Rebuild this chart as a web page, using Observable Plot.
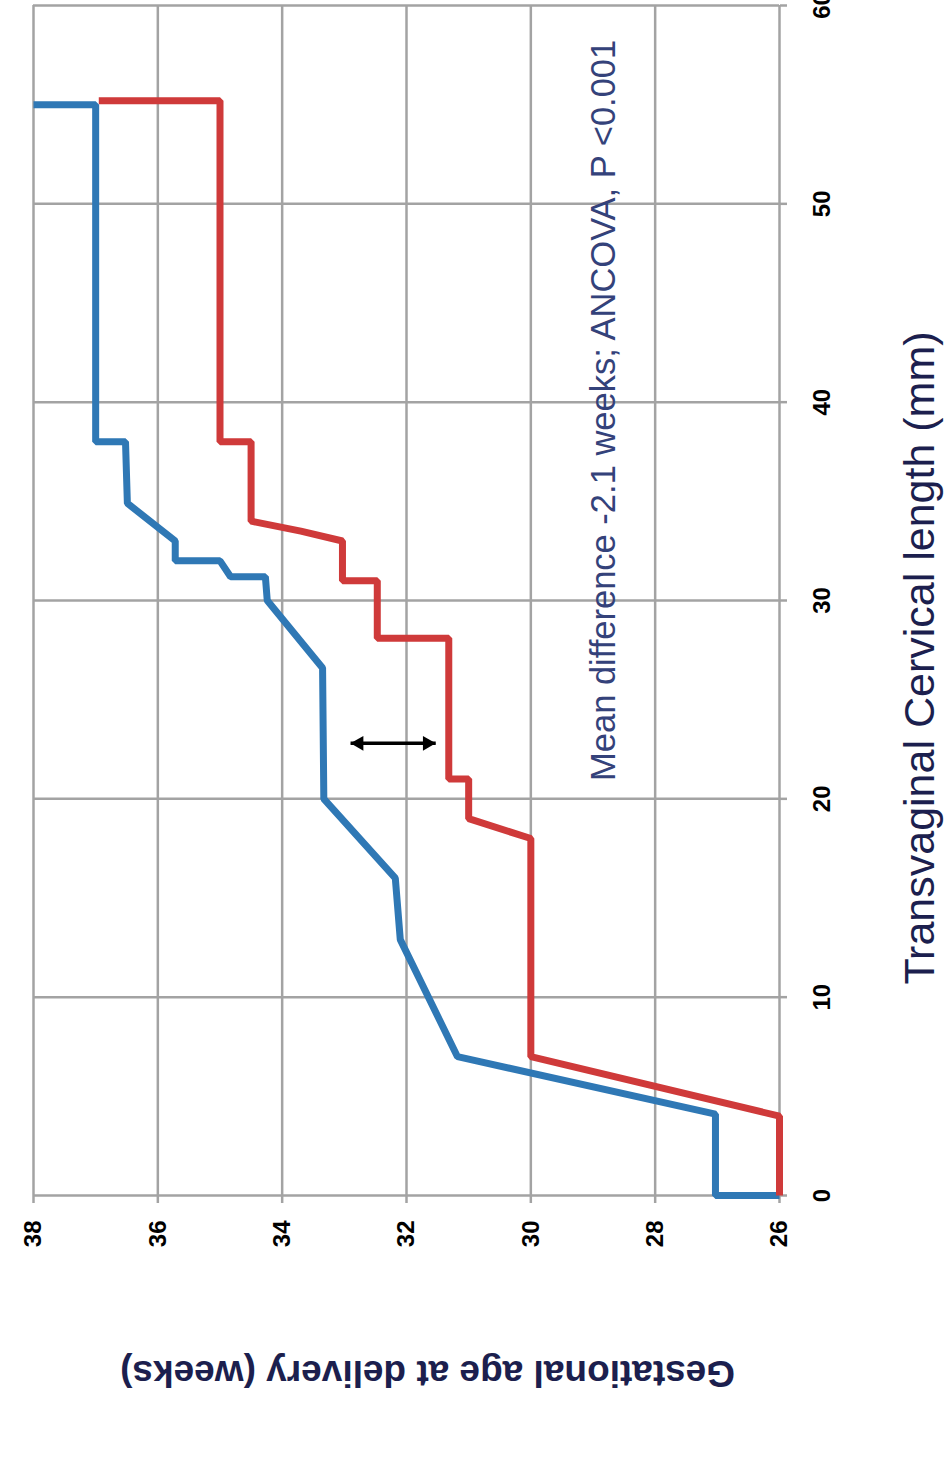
<!DOCTYPE html>
<html><head><meta charset="utf-8">
<script src="https://cdn.jsdelivr.net/npm/d3@7"></script>
<script src="https://cdn.jsdelivr.net/npm/@observablehq/plot@0.6"></script>
<style>body{margin:0;background:#fff}</style>
</head><body><div id="chart"></div>
<script>
// Tick labels
const gaTicks = [26, 28, 30, 32, 34, 36, 38];          // Gestational age at delivery (weeks)
const cervicalTicks = [0, 10, 20, 30, 40, 50, 60];     // Transvaginal cervical length (mm)

// Series 1 (blue): cervical length (mm) -> gestational age (weeks)
const blueCl = [0, 0, 4.1, 7.0, 12.9, 16.0, 20.0, 26.6, 30.0, 31.2, 31.2, 32.0, 32.0, 33.0, 34.9, 38.0, 38.0, 55.0, 55.0];
const blueGa = [26, 27.03, 27.03, 31.18, 32.1, 32.18, 33.33, 33.35, 34.24, 34.27, 34.83, 35.0, 35.72, 35.72, 36.49, 36.52, 37.0, 37.0, 38.0];

// Series 2 (red)
const redCl = [0, 4.0, 7.0, 18.0, 19.0, 21.0, 21.0, 28.1, 28.1, 31.0, 31.0, 33.0, 33.5, 34.0, 38.0, 38.0, 55.2, 55.2];
const redGa = [26, 26, 30.0, 30.0, 31.0, 31.0, 31.32, 31.32, 32.47, 32.47, 33.03, 33.03, 33.7, 34.5, 34.5, 35.0, 35.0, 36.95];

// Double-headed arrow (mean difference)
const arrowCl = 22.8;
const arrowGaFrom = 32.9;
const arrowGaTo = 31.53;

const annotation = "Mean difference -2.1 weeks; ANCOVA, P <0.001";
const xTitle = "Transvaginal Cervical length (mm)";
const yTitle = "Gestational age at delivery (weeks)";

const blue = blueCl.map((c, i) => ({cl: c, ga: blueGa[i]}));
const red = redCl.map((c, i) => ({cl: c, ga: redGa[i]}));
const arrowLine = [{cl: arrowCl, ga1: arrowGaFrom, ga2: arrowGaTo}];
const headOffset = 0.137;
const heads = [
  {cl: arrowCl, ga: arrowGaFrom - headOffset, rot: -90},
  {cl: arrowCl, ga: arrowGaTo + headOffset, rot: 90}
];

const gridColor = "#a3a3a3";

const chart = Plot.plot({
  width: 945,
  height: 1467,
  marginLeft: 33,
  marginRight: 166,
  marginTop: 5,
  marginBottom: 272,
  style: {fontFamily: "Liberation Sans, Arial, sans-serif", background: "#fff"},
  x: {domain: [38, 26]},
  y: {domain: [0, 60]},
  marks: [
    Plot.gridX(gaTicks, {stroke: gridColor, strokeOpacity: 1, strokeWidth: 2.5}),
    Plot.gridY(cervicalTicks, {stroke: gridColor, strokeOpacity: 1, strokeWidth: 2.5}),
    Plot.axisX(gaTicks, {anchor: "bottom", label: null, tickSize: 8, tickPadding: 17, tickRotate: -90,
      stroke: gridColor, strokeWidth: 2.5, fill: "#000", fontSize: 24, fontWeight: "bold"}),
    Plot.axisY(cervicalTicks, {anchor: "right", label: null, tickSize: 7, tickPadding: 43, tickRotate: -90,
      stroke: gridColor, strokeWidth: 2.5, fill: "#000", fontSize: 24, fontWeight: "bold"}),
    Plot.line(blue, {x: "ga", y: "cl", stroke: "#2f78b5", strokeWidth: 7, strokeLinejoin: "miter", strokeLinecap: "butt"}),
    Plot.line(red, {x: "ga", y: "cl", stroke: "#cf3a3a", strokeWidth: 7, strokeLinejoin: "miter", strokeLinecap: "butt"}),
    Plot.link(arrowLine, {x1: "ga1", x2: "ga2", y1: "cl", y2: "cl", stroke: "#000", strokeWidth: 3.5}),
    Plot.dot(heads, {x: "ga", y: "cl", symbol: "triangle", r: 5.5, fill: "#000", stroke: "none", rotate: "rot"}),
    Plot.text([annotation], {x: 28.83, y: 20.9, text: d => d, rotate: -90, textAnchor: "start",
      fontSize: 34.5, fill: "#34427a"}),
    Plot.text([xTitle], {frameAnchor: "right", y: 27.1, dx: 141, text: d => d, rotate: -90,
      textAnchor: "middle", fontSize: 43, fill: "#1c1f4e"}),
    Plot.text([yTitle], {frameAnchor: "bottom", x: 31.66, dy: 165, text: d => d, rotate: 180,
      textAnchor: "middle", fontSize: 37, fontWeight: "bold", fill: "#1c1f4e"})
  ]
});
document.getElementById("chart").appendChild(chart);
</script>
</body></html>
